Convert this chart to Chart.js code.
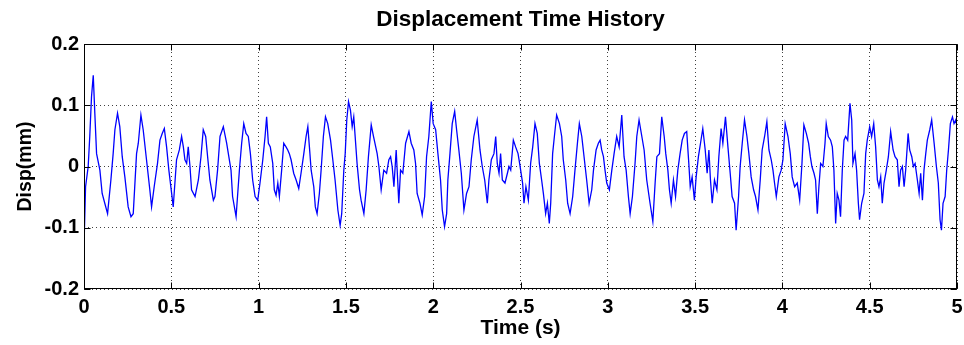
<!DOCTYPE html>
<html>
<head>
<meta charset="utf-8">
<script src="https://cdn.jsdelivr.net/npm/chart.js@4/dist/chart.umd.min.js"></script>
<style>
  html, body { margin: 0; padding: 0; background: #fff; }
  #wrap { width: 964px; height: 345px; }
</style>
</head>
<body>
<div id="wrap"><canvas id="c" width="964" height="345"></canvas></div>
<script>
// Sampled displacement record: time (s) and displacement (mm)
const timeS = [
  0.000,0.009,0.024,0.033,0.043,0.053,0.062,0.072,0.091,0.104,0.119,0.135,0.154,0.167,0.177,0.192,0.205,0.219,0.234,0.253,
  0.269,0.282,0.301,0.311,0.326,0.339,0.358,0.377,0.387,0.402,0.421,0.435,0.448,0.460,0.473,0.486,0.502,0.511,0.530,0.546,
  0.559,0.569,0.578,0.588,0.597,0.607,0.616,0.636,0.655,0.670,0.683,0.697,0.708,0.721,0.741,0.750,0.765,0.779,0.798,0.817,
  0.842,0.851,0.871,0.890,0.903,0.915,0.928,0.941,0.953,0.966,0.980,0.995,1.008,1.024,1.037,1.046,1.056,1.067,1.081,1.090,
  1.100,1.110,1.119,1.132,1.144,1.157,1.167,1.176,1.186,1.201,1.215,1.230,1.243,1.259,1.272,1.282,1.291,1.301,1.316,1.325,
  1.335,1.348,1.358,1.371,1.383,1.396,1.412,1.425,1.438,1.454,1.467,1.476,1.488,1.496,1.505,1.515,1.526,1.536,1.545,1.553,
  1.564,1.578,1.587,1.603,1.616,1.629,1.645,1.658,1.679,1.689,1.702,1.717,1.733,1.746,1.756,1.765,1.775,1.788,1.803,1.813,
  1.826,1.842,1.861,1.874,1.889,1.899,1.908,1.924,1.937,1.951,1.962,1.975,1.989,2.000,2.014,2.027,2.042,2.052,2.065,2.077,
  2.084,2.096,2.109,2.123,2.134,2.147,2.161,2.176,2.191,2.205,2.218,2.233,2.252,2.268,2.281,2.295,2.310,2.319,2.333,2.348,
  2.358,2.367,2.377,2.386,2.396,2.411,2.425,2.434,2.444,2.459,2.472,2.486,2.495,2.512,2.520,2.531,2.545,2.558,2.570,2.583,
  2.596,2.608,2.621,2.631,2.644,2.654,2.665,2.673,2.684,2.694,2.707,2.723,2.736,2.745,2.759,2.770,2.784,2.799,2.812,2.826,
  2.837,2.851,2.864,2.879,2.893,2.908,2.918,2.933,2.946,2.956,2.965,2.975,2.984,2.994,3.009,3.023,3.036,3.051,3.065,3.080,
  3.093,3.105,3.118,3.128,3.141,3.156,3.166,3.179,3.195,3.208,3.223,3.242,3.258,3.271,3.281,3.296,3.309,3.323,3.332,3.344,
  3.353,3.363,3.376,3.388,3.401,3.414,3.426,3.439,3.452,3.464,3.472,3.483,3.496,3.506,3.519,3.531,3.544,3.558,3.569,3.579,
  3.588,3.598,3.611,3.625,3.636,3.649,3.659,3.674,3.688,3.701,3.712,3.726,3.735,3.749,3.758,3.770,3.783,3.797,3.808,3.821,
  3.835,3.846,3.860,3.873,3.884,3.898,3.911,3.923,3.936,3.946,3.955,3.965,3.980,3.993,4.003,4.016,4.032,4.045,4.056,4.070,
  4.085,4.099,4.112,4.123,4.137,4.150,4.160,4.169,4.181,4.190,4.200,4.209,4.219,4.232,4.244,4.251,4.263,4.276,4.286,4.295,
  4.305,4.314,4.324,4.333,4.343,4.353,4.362,4.374,4.387,4.397,4.404,4.416,4.425,4.435,4.442,4.454,4.467,4.477,4.486,4.500,
  4.511,4.523,4.534,4.544,4.553,4.563,4.572,4.582,4.595,4.607,4.620,4.634,4.645,4.658,4.668,4.677,4.687,4.697,4.706,4.720,
  4.729,4.741,4.750,4.760,4.773,4.783,4.792,4.802,4.811,4.821,4.830,4.844,4.855,4.869,4.882,4.893,4.903,4.911,4.920,4.932,
  4.941,4.951,4.962,4.974,4.983,4.993,5.000
];
const dispMm = [
  -0.131,-0.033,0.000,0.049,0.114,0.149,0.087,0.021,-0.006,-0.044,-0.060,-0.077,-0.022,0.021,0.060,0.087,0.065,0.016,-0.017,-0.066,
  -0.082,-0.077,0.021,0.038,0.084,0.060,0.011,-0.038,-0.066,-0.033,0.005,0.043,0.054,0.062,0.032,-0.006,-0.044,-0.066,0.011,0.027,
  0.049,0.032,0.011,0.005,0.032,0.000,-0.038,-0.049,-0.022,0.016,0.060,0.049,0.016,-0.022,-0.055,-0.049,-0.006,0.049,0.065,0.038,
  -0.006,-0.049,-0.082,-0.006,0.038,0.070,0.054,0.049,0.021,-0.022,-0.049,-0.055,-0.027,0.011,0.049,0.081,0.038,0.032,0.005,-0.038,
  -0.047,-0.027,-0.049,-0.006,0.038,0.032,0.027,0.021,0.011,-0.011,-0.022,-0.036,-0.011,0.021,0.049,0.065,0.032,-0.006,-0.033,-0.066,
  -0.077,-0.044,-0.006,0.049,0.081,0.070,0.043,0.011,-0.022,-0.071,-0.096,-0.077,-0.006,0.021,0.076,0.106,0.092,0.065,0.081,0.049,
  0.005,-0.038,-0.055,-0.077,-0.038,0.016,0.068,0.049,0.021,0.000,-0.038,-0.006,-0.011,0.011,0.016,0.000,-0.033,0.027,-0.060,-0.006,
  -0.011,0.038,0.057,0.038,0.027,0.005,-0.044,-0.060,-0.079,-0.049,0.016,0.049,0.106,0.070,0.060,0.021,-0.022,-0.071,-0.098,-0.077,
  -0.022,0.021,0.070,0.090,0.060,0.027,-0.011,-0.071,-0.044,-0.033,0.011,0.049,0.076,0.027,0.000,-0.022,-0.060,-0.022,0.011,0.021,
  0.049,0.005,-0.011,0.021,-0.022,-0.027,-0.011,0.000,-0.006,0.043,0.032,0.021,0.005,-0.027,-0.060,-0.033,-0.055,0.005,0.032,0.070,
  0.054,0.005,-0.022,-0.044,-0.077,-0.060,-0.093,-0.060,0.021,0.049,0.084,0.070,0.049,0.011,-0.022,-0.060,-0.077,-0.049,-0.006,0.038,
  0.070,0.049,0.016,-0.022,-0.060,-0.038,-0.006,0.027,0.038,0.043,0.027,0.016,-0.006,-0.027,-0.038,-0.006,0.021,0.049,0.032,0.084,
  0.016,-0.006,-0.049,-0.077,-0.049,0.005,0.049,0.076,0.049,0.027,-0.022,-0.060,-0.090,-0.027,0.016,0.021,0.081,0.049,0.021,-0.006,
  -0.038,-0.060,-0.022,-0.049,-0.006,0.021,0.043,0.054,0.057,0.005,-0.033,-0.017,-0.055,-0.017,0.016,0.038,0.062,0.027,-0.011,0.027,
  -0.022,-0.060,-0.022,-0.038,0.016,0.062,0.038,0.081,0.032,-0.011,-0.049,-0.060,-0.104,-0.049,0.000,0.038,0.076,0.049,0.021,-0.017,
  -0.038,-0.049,-0.071,-0.022,0.027,0.049,0.073,0.027,0.011,-0.006,-0.027,-0.049,-0.017,-0.006,0.011,0.070,0.049,0.021,-0.017,-0.033,
  -0.027,-0.055,0.005,0.068,0.054,0.038,0.016,0.000,-0.011,-0.022,-0.077,-0.033,0.005,0.000,0.038,0.070,0.049,0.043,0.032,-0.006,
  -0.093,-0.044,-0.055,-0.082,-0.006,0.043,0.049,0.043,0.103,0.076,0.005,0.021,-0.006,-0.060,-0.087,-0.060,-0.044,0.021,0.043,0.065,
  0.049,0.070,0.032,-0.022,-0.033,-0.017,-0.060,-0.027,-0.006,0.016,0.057,0.027,0.016,0.011,-0.033,-0.006,0.000,-0.033,-0.006,0.054,
  0.027,0.016,0.000,0.005,-0.022,-0.044,-0.011,-0.055,-0.006,0.021,0.043,0.060,0.076,0.038,0.000,-0.027,-0.087,-0.104,-0.060,-0.049,
  -0.006,0.027,0.070,0.081,0.070,0.076,0.065
];

// Axis ticks and their labels
const xTicks = [0, 0.5, 1, 1.5, 2, 2.5, 3, 3.5, 4, 4.5, 5];
const xTickLabels = ['0', '0.5', '1', '1.5', '2', '2.5', '3', '3.5', '4', '4.5', '5'];
const yTicks = [-0.2, -0.1, 0, 0.1, 0.2];
const yTickLabels = ['-0.2', '-0.1', '0', '0.1', '0.2'];

const FONT = "'Liberation Sans', Arial, Helvetica, sans-serif";

// Solid box around the plot area with short inward tick marks on all four sides
const boxedAxes = {
  id: 'boxedAxes',
  afterDatasetsDraw(chart) {
    const { ctx, chartArea: a, scales: { x, y } } = chart;
    const L = Math.round(a.left) + 0.5, R = Math.round(a.right) - 0.5;
    const T = Math.round(a.top) + 0.5, B = Math.round(a.bottom) - 0.5;
    const len = 6;
    ctx.save();
    ctx.strokeStyle = '#000';
    ctx.lineWidth = 1;
    ctx.beginPath();
    xTicks.forEach(v => {
      const px = Math.round(x.getPixelForValue(v)) + 0.5;
      ctx.moveTo(px, B); ctx.lineTo(px, B - len);
      ctx.moveTo(px, T); ctx.lineTo(px, T + len);
    });
    yTicks.forEach(v => {
      const py = Math.round(y.getPixelForValue(v)) + 0.5;
      ctx.moveTo(L, py); ctx.lineTo(L + len, py);
      ctx.moveTo(R, py); ctx.lineTo(R - len, py);
    });
    ctx.stroke();
    ctx.strokeRect(L, T, R - L, B - T);
    ctx.restore();
  }
};

const points = timeS.map((t, i) => ({ x: t, y: dispMm[i] }));

new Chart(document.getElementById('c'), {
  type: 'line',
  data: {
    datasets: [{
      data: points,
      borderColor: 'rgb(0,0,255)',
      borderWidth: 1.3,
      pointRadius: 0,
      tension: 0,
      fill: false
    }]
  },
  options: {
    responsive: false,
    devicePixelRatio: 1,
    animation: false,
    events: [],
    layout: { padding: { left: 0, right: 7, top: 0, bottom: 0 } },
    plugins: {
      legend: { display: false },
      tooltip: { enabled: false },
      title: {
        display: true,
        text: 'Displacement Time History',
        fullSize: false,
        color: '#000',
        font: { family: FONT, size: 22.5, weight: 'bold', lineHeight: 1.2 },
        padding: { top: 6, bottom: 11 }
      }
    },
    scales: {
      x: {
        type: 'linear',
        min: 0,
        max: 5,
        afterBuildTicks: s => { s.ticks = xTicks.map(v => ({ value: v })); },
        afterFit: s => { s.height = 56; s.paddingLeft = 0; s.paddingRight = 0; },
        ticks: {
          autoSkip: false,
          maxRotation: 0,
          color: '#000',
          padding: 7,
          font: { family: FONT, size: 20, weight: 'bold', lineHeight: 1.1 },
          callback: (v, i) => xTickLabels[i]
        },
        grid: { color: 'rgba(0,0,0,0.75)', lineWidth: 1, drawTicks: false },
        border: { display: false, dash: [1, 3] },
        title: {
          display: true,
          text: 'Time (s)',
          color: '#000',
          font: { family: FONT, size: 21, weight: 'bold', lineHeight: 1.1 },
          padding: { top: 0, bottom: 5 }
        }
      },
      y: {
        type: 'linear',
        min: -0.2,
        max: 0.2,
        afterBuildTicks: s => { s.ticks = yTicks.map(v => ({ value: v })); },
        afterFit: s => { s.width = 84; s.paddingTop = 0; s.paddingBottom = 0; },
        ticks: {
          color: '#000',
          padding: 5,
          font: { family: FONT, size: 20, weight: 'bold' },
          callback: (v, i) => yTickLabels[i]
        },
        grid: { color: 'rgba(0,0,0,0.75)', lineWidth: 1, drawTicks: false },
        border: { display: false, dash: [1, 3] },
        title: {
          display: true,
          text: 'Disp(mm)',
          color: '#000',
          font: { family: FONT, size: 19.5, weight: 'bold', lineHeight: 1.1 },
          padding: { top: 15, bottom: 0 }
        }
      }
    }
  },
  plugins: [boxedAxes]
});
</script>
</body>
</html>
